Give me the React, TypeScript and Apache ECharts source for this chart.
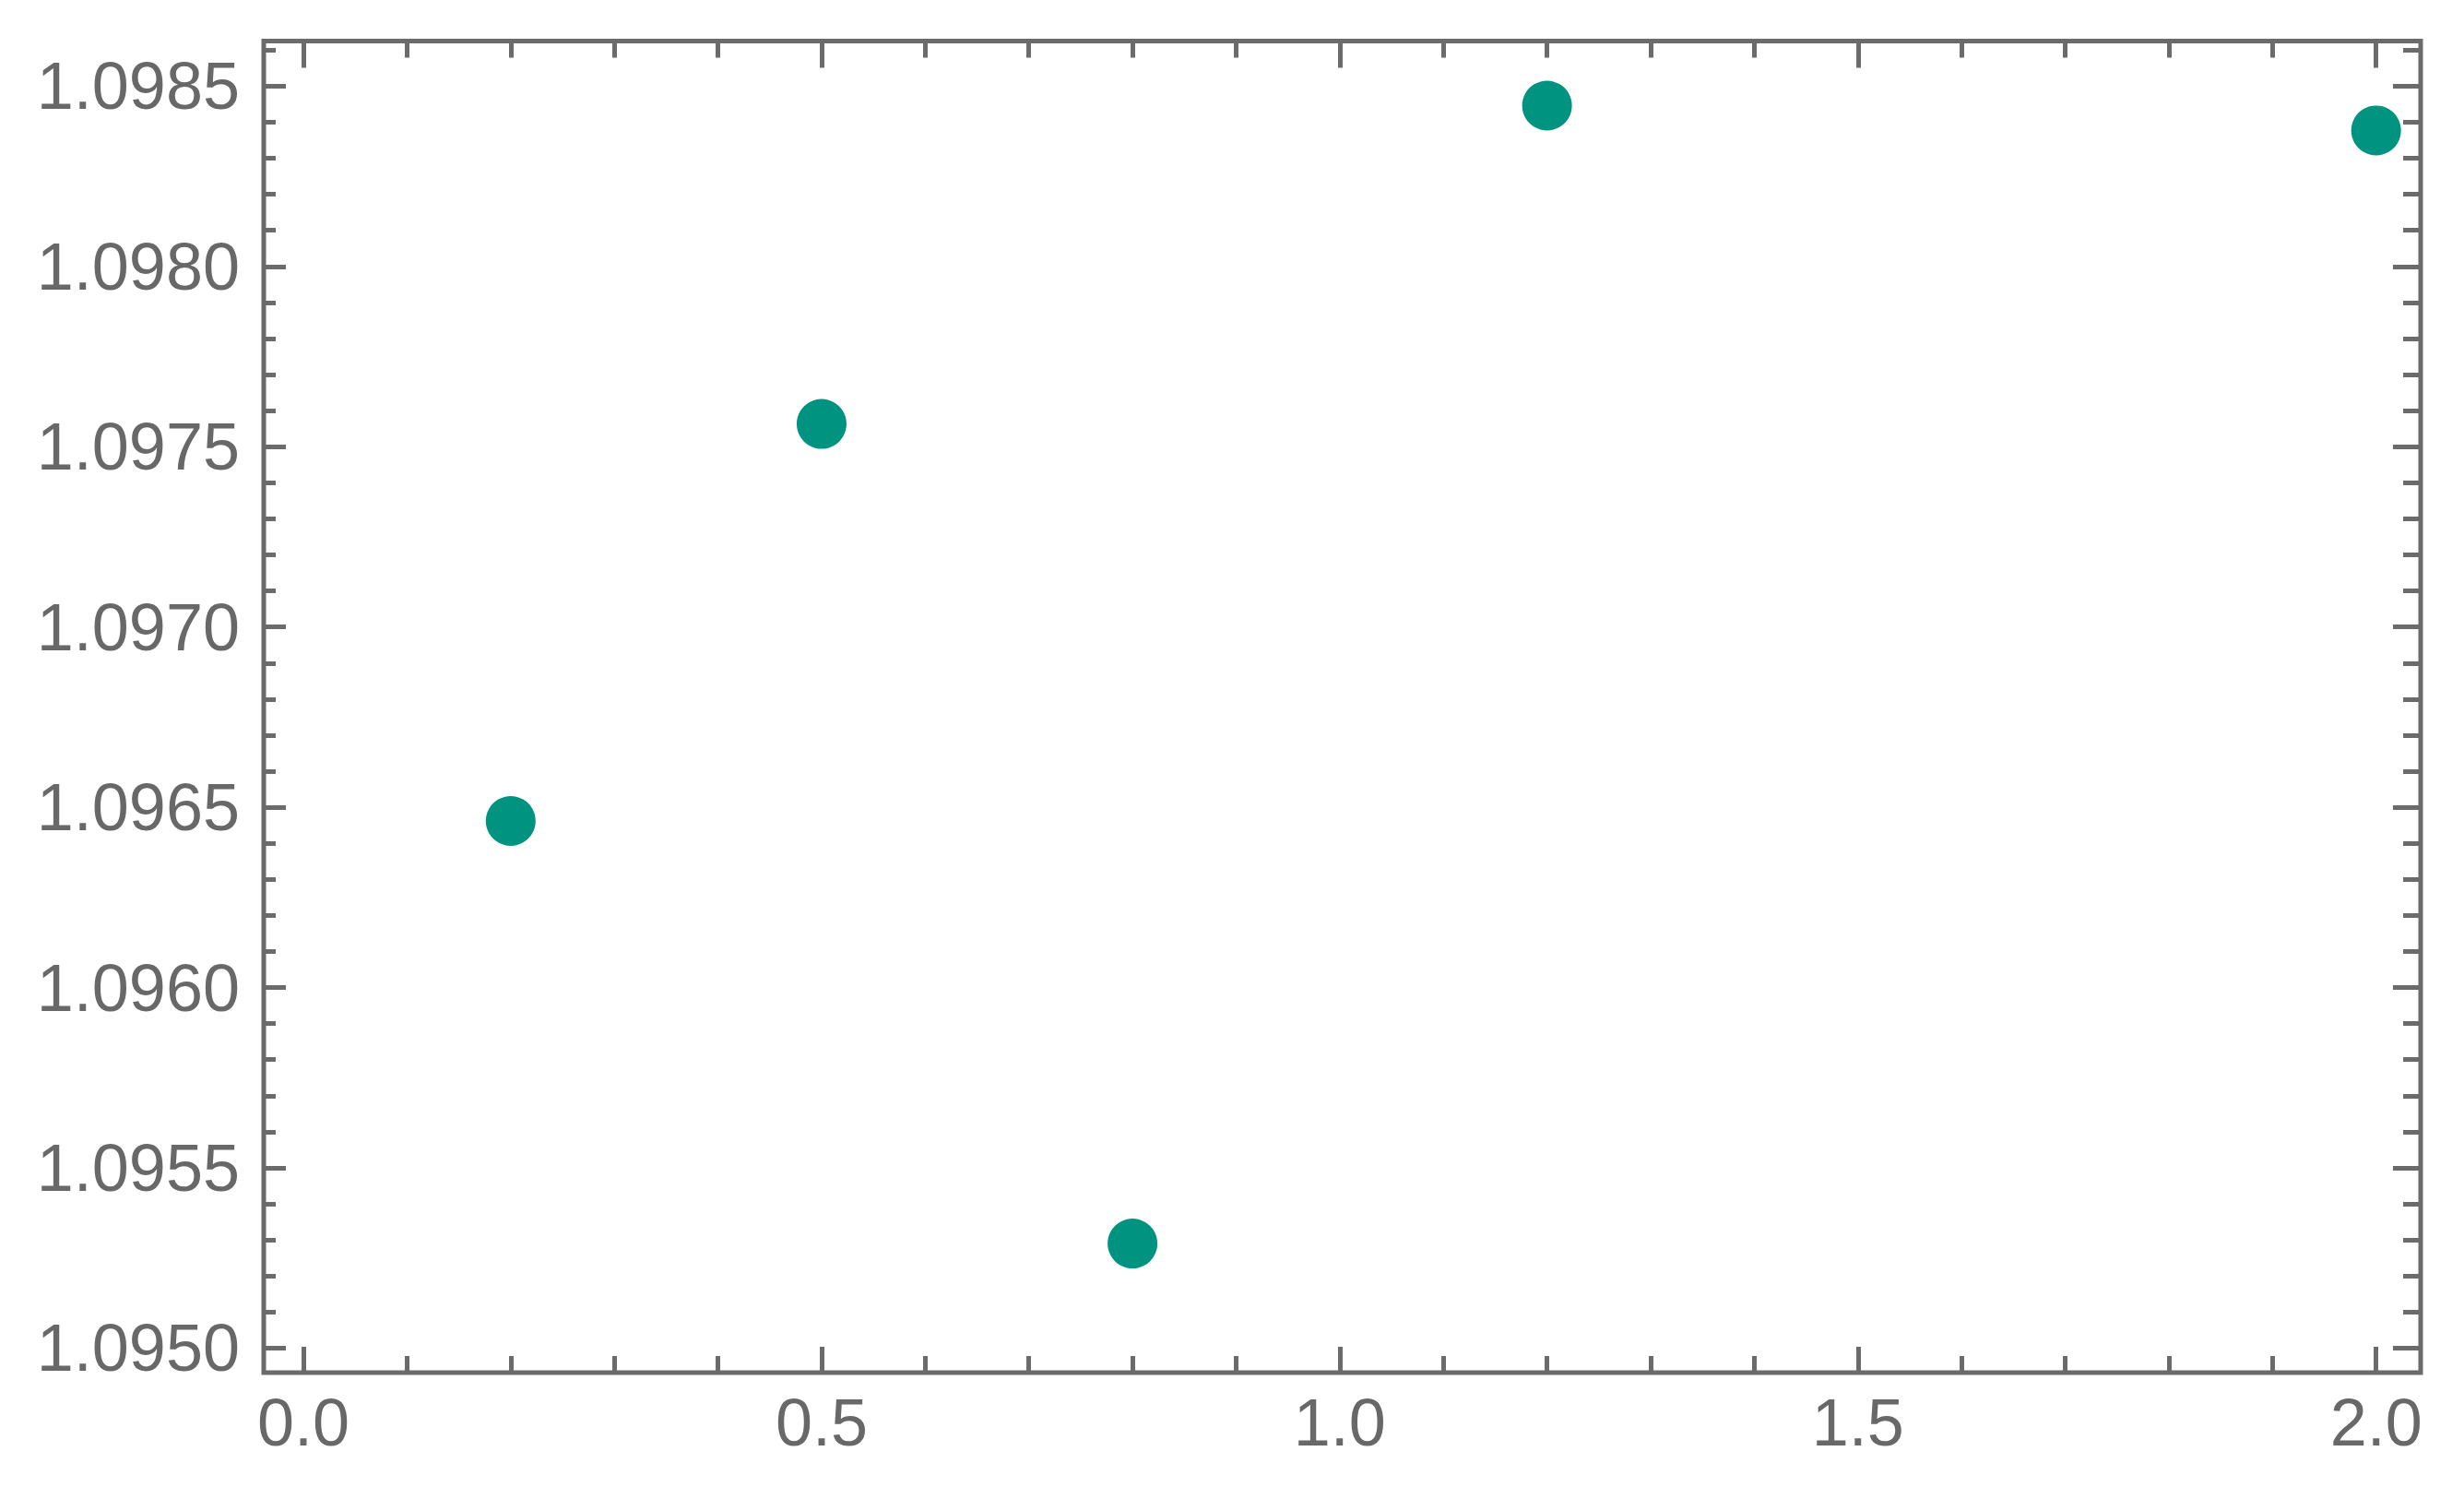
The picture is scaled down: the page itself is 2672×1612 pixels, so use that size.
import React, { useEffect, useRef } from "react";
import * as echarts from "echarts";

const xValues = [0.2, 0.5, 0.8, 1.2, 2.0];
const yValues = [1.096462, 1.097563, 1.09529, 1.098446, 1.098377];

const xMajorTicks = [0.0, 0.5, 1.0, 1.5, 2.0];
const xMinorTicks = [0.1, 0.2, 0.3, 0.4, 0.6, 0.7, 0.8, 0.9, 1.1, 1.2, 1.3, 1.4, 1.6, 1.7, 1.8, 1.9];
const yMajorTicks = [1.095, 1.0955, 1.096, 1.0965, 1.097, 1.0975, 1.098, 1.0985];
const yMinorTicks = [
  1.0951, 1.0952, 1.0953, 1.0954, 1.0956, 1.0957, 1.0958, 1.0959, 1.0961, 1.0962, 1.0963, 1.0964,
  1.0966, 1.0967, 1.0968, 1.0969, 1.0971, 1.0972, 1.0973, 1.0974, 1.0976, 1.0977, 1.0978, 1.0979,
  1.0981, 1.0982, 1.0983, 1.0984, 1.0986,
];

const X_MIN = -0.0383;
const X_MAX = 2.043;
const Y_MIN = 1.094932;
const Y_MAX = 1.098625;

const AXIS_COLOR = "#6b6b6b";
const LABEL_COLOR = "#686868";
const FONT = "'Liberation Sans', Arial, sans-serif";

function makeAxis(
  kind: "x" | "y",
  position: string,
  ticks: number[],
  tickLength: number,
  labels: boolean
) {
  const isX = kind === "x";
  return {
    type: "value",
    position,
    min: isX ? X_MIN : Y_MIN,
    max: isX ? X_MAX : Y_MAX,
    axisLine: { show: false, onZero: false },
    splitLine: { show: false },
    axisTick: {
      show: true,
      inside: true,
      length: tickLength,
      customValues: ticks,
      lineStyle: { color: AXIS_COLOR, width: 5 },
    },
    axisLabel: labels
      ? {
          show: true,
          customValues: ticks,
          color: LABEL_COLOR,
          fontFamily: FONT,
          fontSize: 72,
          margin: isX ? 18 : 26,
          formatter: (v: number) => (isX ? v.toFixed(1) : v.toFixed(4)),
        }
      : { show: false },
  };
}

export default function App() {
  const ref = useRef<HTMLDivElement>(null);
  useEffect(() => {
    if (!ref.current) return;
    const chart = echarts.init(ref.current, null, { renderer: "svg" });
    chart.setOption({
      animation: false,
      backgroundColor: "#ffffff",
      grid: {
        left: 286,
        right: 47,
        top: 44.5,
        bottom: 124,
        show: true,
        borderColor: AXIS_COLOR,
        borderWidth: 5,
        backgroundColor: "transparent",
      },
      xAxis: [
        makeAxis("x", "bottom", xMajorTicks, 28, true),
        makeAxis("x", "bottom", xMinorTicks, 18, false),
        makeAxis("x", "top", xMajorTicks, 29, false),
        makeAxis("x", "top", xMinorTicks, 18, false),
      ],
      yAxis: [
        makeAxis("y", "left", yMajorTicks, 24, true),
        makeAxis("y", "left", yMinorTicks, 13, false),
        makeAxis("y", "right", yMajorTicks, 30, false),
        makeAxis("y", "right", yMinorTicks, 19, false),
      ],
      series: [
        {
          type: "scatter",
          xAxisIndex: 0,
          yAxisIndex: 0,
          symbol: "circle",
          symbolSize: 54,
          itemStyle: { color: "#009480", opacity: 1 },
          data: xValues.map((x, i) => [x, yValues[i]]),
        },
      ],
    });
    return () => chart.dispose();
  }, []);
  return (
    <div
      ref={ref}
      style={{ position: "fixed", left: 0, top: 0, width: 2672, height: 1612, background: "#fff" }}
    />
  );
}
